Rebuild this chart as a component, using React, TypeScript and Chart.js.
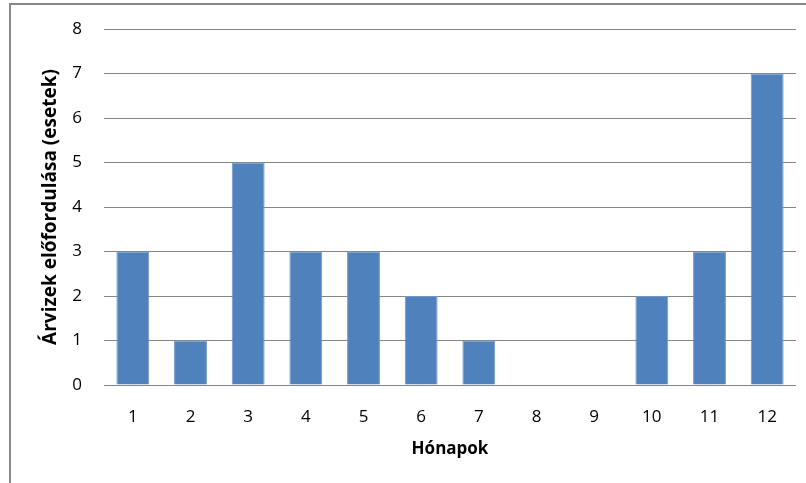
import React, { useEffect, useRef } from "react";
import { Chart, registerables } from "chart.js";

Chart.register(...registerables);

const months = ["1", "2", "3", "4", "5", "6", "7", "8", "9", "10", "11", "12"];
const floods = [3, 1, 5, 3, 3, 2, 1, 0, 0, 2, 3, 7];
const yTitle = "Árvizek előfordulása (esetek)";
const xTitle = "Hónapok";

export default function App() {
  const ref = useRef<HTMLCanvasElement | null>(null);

  useEffect(() => {
    if (!ref.current) return;
    const chart = new Chart(ref.current, {
      type: "bar",
      data: {
        labels: months,
        datasets: [
          {
            data: floods,
            backgroundColor: "#4F81BD",
            borderColor: "#6f97c8",
            borderWidth: 1,
            barPercentage: 0.57,
            categoryPercentage: 1,
          },
        ],
      },
      options: {
        animation: false,
        responsive: true,
        maintainAspectRatio: false,
        layout: { padding: { left: 0, right: 10, top: 29, bottom: 0 } },
        plugins: { legend: { display: false }, tooltip: { enabled: false } },
        scales: {
          x: {
            grid: { display: false, drawTicks: false },
            border: { display: false },
            ticks: { color: "#000", padding: 22, font: { family: "Open Sans", size: 17 } },
            title: {
              display: true,
              text: xTitle,
              color: "#000",
              font: { family: "Open Sans", size: 17, weight: "bold" },
              padding: { top: 0, bottom: 24 },
            },
            afterFit: (s: any) => {
              s.height = 98;
              s.paddingLeft = 0;
              s.paddingRight = 0;
            },
          },
          y: {
            min: 0,
            max: 8,
            grid: { color: "#868686", lineWidth: 1, drawTicks: false },
            border: { display: false },
            ticks: { stepSize: 1, color: "#000", padding: 22, font: { family: "Open Sans", size: 17 } },
            title: {
              display: true,
              text: yTitle,
              color: "#000",
              font: { family: "Open Sans", size: 19, weight: "bold" },
              padding: { top: 39, bottom: 0 },
            },
            afterFit: (s: any) => {
              s.width = 104;
              s.paddingTop = 0;
              s.paddingBottom = 0;
            },
          },
        },
      },
    });
    return () => chart.destroy();
  }, []);

  return (
    <div style={{ position: "fixed", left: 0, top: 0, width: 806, height: 483, background: "#fff", overflow: "hidden" }}>
      <div
        style={{
          position: "absolute",
          left: 9,
          top: 3,
          width: 900,
          height: 600,
          borderTop: "2px solid #888",
          borderLeft: "2px solid #888",
        }}
      />
      <div style={{ position: "absolute", left: 0, top: 0, width: 806, height: 483 }}>
        <canvas ref={ref} />
      </div>
    </div>
  );
}
